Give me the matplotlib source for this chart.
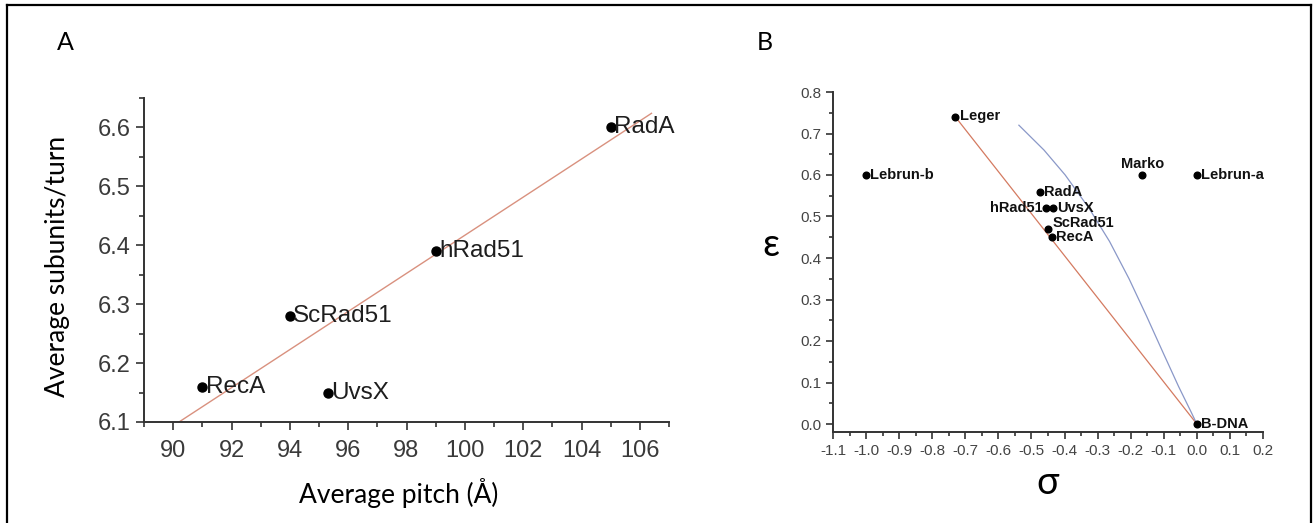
import matplotlib
matplotlib.use("Agg")
import matplotlib.pyplot as plt
from matplotlib.ticker import MultipleLocator, FormatStrFormatter
from matplotlib.lines import Line2D

# ---------------- Data: panel A ----------------
names_a = ["RadA", "hRad51", "ScRad51", "RecA", "UvsX"]
pitch = [105.0, 99.0, 94.0, 91.0, 95.3]
subunits = [6.60, 6.39, 6.28, 6.16, 6.15]
fit_pitch = [90.2, 106.4]
fit_subunits = [6.10, 6.624]

# ---------------- Data: panel B ----------------
names_b = ["Leger", "Lebrun-b", "Marko", "Lebrun-a", "RadA", "hRad51",
           "UvsX", "ScRad51", "RecA", "B-DNA"]
sigma = [-0.73, -1.0, -0.165, 0.0, -0.475, -0.455, -0.435, -0.45, -0.437, 0.0]
eps = [0.74, 0.60, 0.60, 0.60, 0.56, 0.52, 0.52, 0.47, 0.45, 0.0]
red_sigma = [-0.73, 0.0]
red_eps = [0.74, 0.0]
blue_sigma = [-0.538, -0.462, -0.398, -0.326, -0.264, -0.205, -0.152,
              -0.101, -0.055, -0.018, 0.0]
blue_eps = [0.72, 0.66, 0.60, 0.52, 0.44, 0.35, 0.26,
            0.17, 0.09, 0.03, 0.0]

# label placement (offset in points, ha, va)
place_b = {
    "Marko": ((0, 3), "center", "bottom"),
    "hRad51": ((-3, 0), "right", "center"),
    "ScRad51": ((3, 4), "left", "center"),
    "Leger": ((3, 1), "left", "center"),
}

W, H = 1315, 523
fig = plt.figure(figsize=(W / 100, H / 100), dpi=100)
fig.patch.set_facecolor("white")

TICKFONT = "Liberation Sans"
LABFONT = "Lato"
spine_col = "#333333"


def style_axes(ax, size, labsize, labcol):
    for s in ["top", "right"]:
        ax.spines[s].set_visible(False)
    for s in ["left", "bottom"]:
        ax.spines[s].set_color(spine_col)
        ax.spines[s].set_linewidth(1.4)
    ax.tick_params(which="both", direction="out", color=spine_col, width=1.2)
    ax.tick_params(which="major", length=size, labelsize=labsize,
                   labelcolor=labcol)
    ax.tick_params(which="minor", length=size * 0.6)
    for lab in ax.get_xticklabels() + ax.get_yticklabels():
        lab.set_fontfamily(TICKFONT)


# ---------------- Panel A ----------------
axA = fig.add_axes([144 / W, (H - 422) / H, 525 / W, 324 / H])
axA.plot(fit_pitch, fit_subunits, color="#d9917f", lw=1.0, zorder=1)
axA.plot(pitch, subunits, "o", color="black", ms=6.5, zorder=2)
for n, x, y in zip(names_a, pitch, subunits):
    axA.annotate(n, (x, y), xytext=(2.5, 0), textcoords="offset points",
                 ha="left", va="center", fontsize=17.5, family=TICKFONT,
                 color="#1e1e1e")
axA.set_xlim(89, 107)
axA.set_ylim(6.1, 6.65)
axA.xaxis.set_major_locator(MultipleLocator(2))
axA.xaxis.set_minor_locator(MultipleLocator(1))
axA.yaxis.set_major_locator(MultipleLocator(0.1))
axA.yaxis.set_minor_locator(MultipleLocator(0.05))
axA.yaxis.set_major_formatter(FormatStrFormatter("%.1f"))
axA.tick_params(axis="x", pad=7)
style_axes(axA, 6, 17, "#3a3a3a")
axA.set_xlabel("Average pitch (Å)", fontsize=19, family=LABFONT,
               va="center", color="black")
axA.xaxis.set_label_coords(0.485, -0.219)
axA.set_ylabel("Average subunits/turn", fontsize=19, family=LABFONT,
               va="center", color="black")
axA.yaxis.set_label_coords(-0.165, 0.48)

# ---------------- Panel B ----------------
axB = fig.add_axes([833 / W, (H - 432.3) / H, 430 / W, 340.3 / H])
axB.plot(red_sigma, red_eps, color="#d47a60", lw=0.9, zorder=1)
axB.plot(blue_sigma, blue_eps, color="#8a98c8", lw=0.9, zorder=1)
axB.plot(sigma, eps, "o", color="black", ms=4.8, zorder=2)
for n, x, y in zip(names_b, sigma, eps):
    off, ha, va = place_b.get(n, ((3, 0), "left", "center"))
    axB.annotate(n, (x, y), xytext=off, textcoords="offset points",
                 ha=ha, va=va, fontsize=10.5, family=TICKFONT,
                 fontweight="bold", color="#111111")
axB.set_xlim(-1.1, 0.2)
axB.set_ylim(-0.02, 0.8)
axB.xaxis.set_major_locator(MultipleLocator(0.1))
axB.xaxis.set_minor_locator(MultipleLocator(0.05))
axB.yaxis.set_major_locator(MultipleLocator(0.1))
axB.yaxis.set_minor_locator(MultipleLocator(0.05))
axB.xaxis.set_major_formatter(FormatStrFormatter("%.1f"))
axB.yaxis.set_major_formatter(FormatStrFormatter("%.1f"))
style_axes(axB, 5, 11, "#444444")
axB.set_xlabel("σ", fontsize=27, family=LABFONT, va="center")
axB.xaxis.set_label_coords(0.498, -0.149)
axB.set_ylabel("ε", fontsize=27, family=LABFONT, va="center", ha="center",
               rotation=0)
axB.yaxis.set_label_coords(-0.144, 0.55)

# panel letters
fig.text(65 / W, 1 - 43 / H, "A", fontsize=18, family=LABFONT,
         ha="center", va="center")
fig.text(765 / W, 1 - 43 / H, "B", fontsize=18, family=LABFONT,
         ha="center", va="center")

# outer frame (bottom edge is cut off in the reference)
for xs, ys in [([7, 7], [5, H + 5]), ([7, 1311], [5, 5]),
               ([1311, 1311], [5, H + 5])]:
    fig.add_artist(Line2D([x / W for x in xs], [1 - y / H for y in ys],
                          transform=fig.transFigure, color="black", lw=1.6))

fig.savefig("out.png", dpi=100, facecolor="white")
